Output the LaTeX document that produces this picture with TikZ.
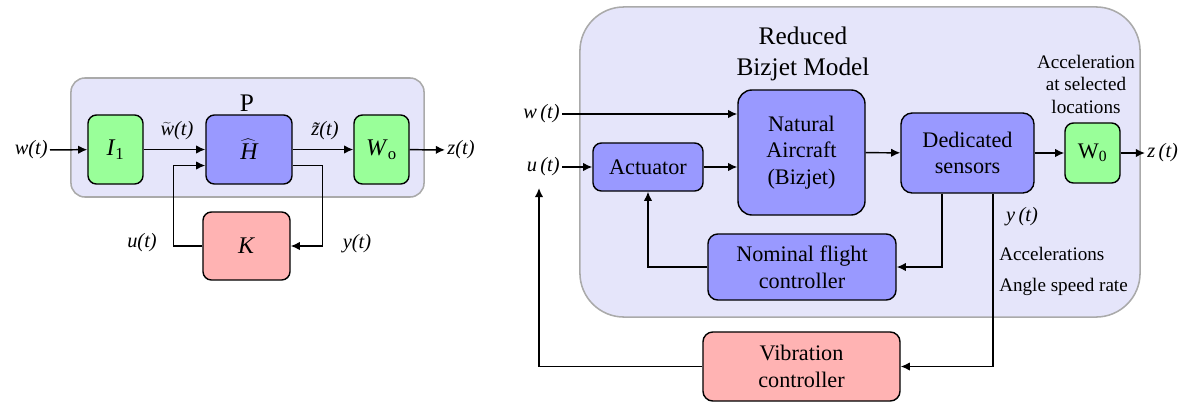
\documentclass[tikz,border=0pt]{standalone}
\usepackage{fontspec}
\setmainfont{Liberation Serif}
\usetikzlibrary{
  arrows.meta,
  positioning,
  calc
}

\definecolor{panelfill}{HTML}{E5E5FA}
\definecolor{panelline}{HTML}{AAAAAA}
\definecolor{plantblue}{HTML}{9999FF}
\definecolor{weightgreen}{HTML}{99FF99}
\definecolor{ctrlpink}{HTML}{FFB3B3}

\newcommand{\sigfont}{\fontsize{14.5}{17}\selectfont}
\newcommand{\symfont}{\fontsize{17}{20}\selectfont}
\newcommand{\boxfont}{\fontsize{15.8}{19}\selectfont}
\newcommand{\titlefont}{\fontsize{18}{21.5}\selectfont}
\newcommand{\notefont}{\fontsize{13.6}{16}\selectfont}

\tikzset{
  panel/.style={
    rectangle, draw=panelline, fill=panelfill, line width=1.1pt
  },
  block/.style={
    rectangle, draw, line width=1pt, rounded corners=6pt,
    inner sep=0pt, align=center, font=\boxfont
  },
  plantblock/.style={block, fill=plantblue},
  weightblock/.style={block, fill=weightgreen},
  ctrlblock/.style={block, fill=ctrlpink},
  signal/.style={inner sep=1.5pt, font=\sigfont},
  note/.style={inner sep=0pt, font=\notefont, align=center},
  arrow/.style={-{Latex[length=6.5pt,width=6pt]}, line width=1.05pt}
}

\begin{document}
\begin{tikzpicture}[x=0.025cm, y=-0.025cm]
\useasboundingbox (0,0) rectangle (1186,403);

%% ---------- generalized plant P with controller K ----------
\node[panel, rounded corners=10pt, minimum width=8.825cm, minimum height=2.975cm]
  (pbox) at (247.5,137.5) {};
\node[font=\titlefont, inner sep=0pt] (ptitle) at (247,103) {P};

\node[weightblock, minimum width=1.375cm, minimum height=1.725cm, font=\symfont]
  (in1) at (115.5,149.5) {\textit{I}\textsubscript{1}};
\node[plantblock, minimum width=2.15cm, minimum height=1.725cm, font=\symfont]
  (hhat) at (249,149.5) {$\widehat{\textit{H}}$};
\node[weightblock, minimum width=1.375cm, minimum height=1.725cm, font=\symfont]
  (wo) at (381.5,149.5) {\textit{W}\textsubscript{o}};
\node[ctrlblock, minimum width=2.175cm, minimum height=1.7cm, font=\symfont]
  (kctrl) at (246.5,246) {\textit{K}};

% exogenous input and performance output
\node[signal, anchor=east] (wleft) at (50,150) {\textit{w(t)}};
\node[signal, anchor=west] (zleft) at (445,150) {\textit{z(t)}};
\draw[arrow] (wleft) -- (in1);
\draw[arrow] (in1) -- (hhat);
\draw[arrow] (hhat) -- (wo);
\draw[arrow] (wo) -- (zleft);
\node[signal] (wtilde) at (177,131) {$\widetilde{\textit{w}}$\textit{(t)}};
\node[signal] (ztilde) at (325,131) {\textit{\~z(t)}};

% feedback loop
\draw[arrow] ([yshift=-0.4cm]hhat.east) -- ++(30,0) |- (kctrl.east);
\draw[arrow] (kctrl.west) -- ++(-29,0) |- ([yshift=-0.4cm]hhat.west);
\node[signal] (uleft) at (142,243) {\textit{u(t)}};
\node[signal] (yleft) at (357,244) {\textit{y(t)}};

%% ---------- reduced bizjet model ----------
\node[panel, rounded corners=1.1cm, minimum width=14cm, minimum height=7.75cm]
  (bizjet) at (860,162) {};
\node[font=\titlefont, align=center, inner sep=0pt] (btitle) at (803,54)
  {Reduced\\Bizjet Model};

\node[plantblock, rounded corners=10pt, minimum width=3.175cm, minimum height=3.125cm]
  (aircraft) at (801.5,152.5) {Natural\\Aircraft\\(Bizjet)};
\node[plantblock, minimum width=2.75cm, minimum height=1.2cm]
  (actuator) at (648,167) {Actuator};
\node[plantblock, rounded corners=8pt, minimum width=3.325cm, minimum height=2cm]
  (sensors) at (967.5,153) {Dedicated\\sensors};
\node[weightblock, minimum width=1.375cm, minimum height=1.5cm]
  (wzero) at (1092.5,153) {W\textsubscript{0}};
\node[plantblock, rounded corners=7pt, minimum width=4.7cm, minimum height=1.65cm]
  (nominal) at (802,267) {Nominal flight\\controller};

% vibration controller outside the model
\node[ctrlblock, rounded corners=7pt, minimum width=4.925cm, minimum height=1.725cm]
  (vibration) at (801.5,366.5) {Vibration\\controller};

% signals in and out
\node[signal, anchor=east] (wright) at (562,114) {\textit{w\,(t)}};
\node[signal, anchor=east] (uright) at (562,167) {\textit{u\,(t)}};
\node[signal, anchor=west] (zright) at (1145,153) {\textit{z\,(t)}};
\node[signal] (yright) at (1022,217) {\textit{y\,(t)}};
\coordinate (ufeed) at (539,188);

\draw[arrow] (wright) -- (aircraft.west |- wright);
\draw[arrow] (uright) -- (actuator);
\draw[arrow] (actuator) -- (aircraft.west |- actuator);
\draw[arrow] (aircraft) -- (sensors);
\draw[arrow] (sensors) -- (wzero);
\draw[arrow] (wzero) -- (zright);

% inner and outer loops
\draw[arrow] ([xshift=-0.64cm]sensors.south) |- (nominal.east);
\draw[arrow] (nominal.west) -| (actuator.south);
\draw[arrow] ([xshift=0.64cm]sensors.south) |- (vibration.east);
\draw[arrow] (vibration.west) -| (ufeed);

% annotations
\node[note] (selected) at (1086,84) {Acceleration\\at selected\\locations};
\node[note, anchor=west] (accel) at (999,254) {Accelerations};
\node[note, anchor=west] (angle) at (999,287) {Angle speed rate};

\end{tikzpicture}
\end{document}
